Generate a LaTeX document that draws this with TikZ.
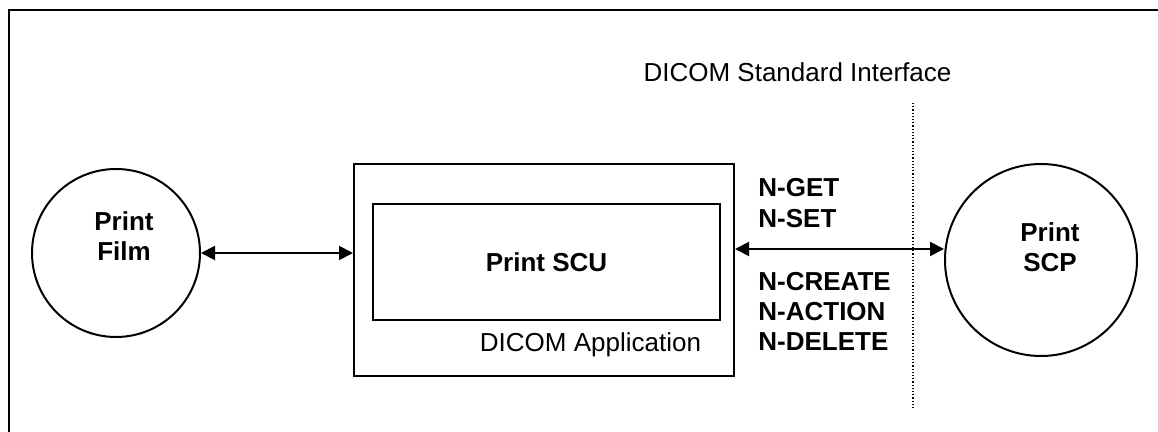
\documentclass[tikz,border=0pt]{standalone}
\usepackage{fontspec}
\setmainfont{Liberation Sans}
\usetikzlibrary{arrows.meta}

\begin{document}
\begin{tikzpicture}[
x=0.5pt,
y=-0.5pt,
every node/.style={
  font=\fontsize{13}{15}\selectfont
  },
unit/.style={
  draw,
  circle,
  line width=1pt
  },
block/.style={
  draw,
  rectangle,
  line width=1pt
  },
caption/.style={
  align=center,
  font=\fontsize{13}{15}\selectfont\bfseries
  },
op/.style={
  anchor=west,
  inner sep=0pt,
  font=\fontsize{13}{15}\selectfont\bfseries
  },
link/.style={
  <->,
  line width=1pt
  },
>={Triangle[length=7pt,width=7pt]}
]
\useasboundingbox (0,0) rectangle (1158,432);
\draw[line width=1.3pt] (1170,10) -- (9,10) -- (9,445);

\node[unit,minimum size=84pt] (film) at (116,253) {};
\node[caption] (filmtext) at (124,236) {Print\\Film};

\node[block,minimum width=190pt,minimum height=106pt] (app) at (544,270) {};
\node[block,minimum width=173.5pt,minimum height=58pt] (scu) at (546.5,262) {};
\node[caption] (scutext) at (scu) {Print SCU};
\node (apptext) at (590.5,345) {DICOM Application};

\node[unit,minimum size=96pt] (scp) at (1041,260) {};
\node[caption] (scptext) at (1050,247) {Print\\SCP};

\node (std) at (797.5,72) {DICOM Standard Interface};
\coordinate (ifctop) at (913,103);
\coordinate (ifcbot) at (913,410);
\coordinate (ifc) at (913,249);
\draw[line width=0.6pt,dash pattern=on 0.6pt off 1pt] (ifctop) -- (ifcbot);

\draw[link] (film) -- (film -| app.west);
\draw[link] (ifc -| app.east) -- (ifc -| scp.west);

\foreach \o/\y in {GET/188,SET/219,CREATE/282,ACTION/312,DELETE/342}
  \node[op] (n-\o) at (758,\y) {N-\o};

\end{tikzpicture}
\end{document}
